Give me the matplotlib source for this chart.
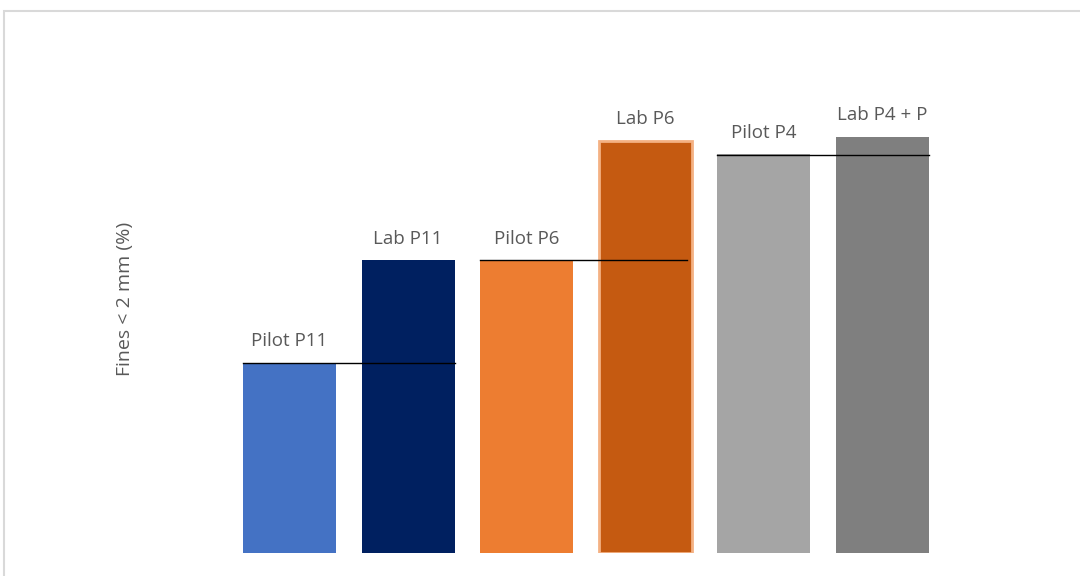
import matplotlib.pyplot as plt
from matplotlib.patches import Rectangle

plt.rcParams['font.family'] = ['Open Sans', 'DejaVu Sans']

# dados (escala aproximada)
labels = ['Pilot P11', 'Lab P11', 'Pilot P6', 'Lab P6', 'Pilot P4', 'Lab P4 + P']
fines = [19.0, 29.3, 29.2, 41.2, 39.9, 41.6]
colors = ['#4472c4', '#002060', '#ed7d31', '#c55a11', '#a5a5a5', '#7f7f7f']
# nivel piloto usado como referencia para cada par
pares = [(0, 1), (2, 3), (4, 5)]
niveis = [19.0, 29.3, 39.8]

W, H = 1080, 576
fig = plt.figure(figsize=(W / 100, H / 100), dpi=100)
ax = fig.add_axes([170 / W, 23 / H, (1000 - 170) / W, (553 - 30) / H])

larg = 0.785
x = list(range(len(labels)))
bars = ax.bar(x, fines, width=larg, color=colors)
bars[3].set_edgecolor('#f4b183')
bars[3].set_linewidth(2)

for b, lab in zip(bars, labels):
    ax.annotate(lab, (b.get_x() + b.get_width() / 2, b.get_height()),
                xytext=(0, 9), textcoords='offset points',
                ha='center', va='bottom', fontsize=13.5, color='#595959')

# linhas de referencia
for (i, j), n in zip(pares, niveis):
    fim = j + larg / 2
    if i == 2:
        fim -= 0.04
    ax.plot([i - larg / 2, fim], [n, n], color='black', lw=1)

ax.set_xlim(-(289.5 - 170) / 118.6, 5 + (1000 - 882.5) / 118.6)
ax.set_ylim(0, 52.3)
for s in ax.spines.values():
    s.set_visible(False)
ax.set_xticks([])
ax.set_yticks([])

fig.text(125 / W, 1 - 299 / H, 'Fines < 2 mm (%)', rotation=90,
         ha='center', va='center', fontsize=14, color='#595959')

fig.add_artist(Rectangle((4 / W, -0.1), 1.2, 1 - 10.5 / H + 0.1,
                         transform=fig.transFigure, fill=False,
                         edgecolor='#d9d9d9', lw=1.5))

fig.savefig('out.png', dpi=100)
